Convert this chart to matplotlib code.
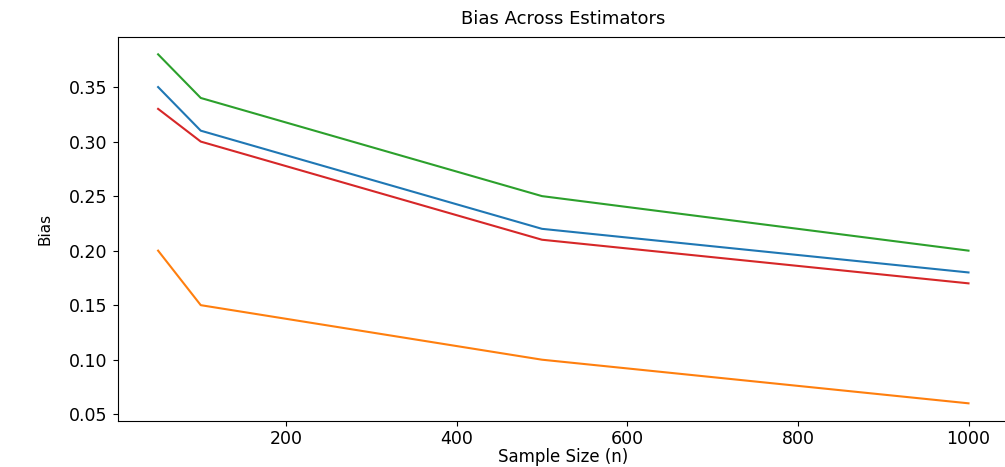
import numpy as np
import matplotlib
matplotlib.use("Agg")
import matplotlib.pyplot as plt

# sample sizes and bias of each estimator
sample_sizes = [50, 100, 500, 1000]
bias_blue = [0.35, 0.31, 0.22, 0.18]
bias_orange = [0.20, 0.15, 0.10, 0.06]
bias_green = [0.38, 0.34, 0.25, 0.20]
bias_red = [0.33, 0.30, 0.21, 0.17]

fig = plt.figure(figsize=(10.05, 4.67), dpi=100)
ax = fig.add_axes([0.117, 0.099, 0.887, 0.822])

ax.plot(sample_sizes, bias_blue, color="tab:blue")
ax.plot(sample_sizes, bias_orange, color="tab:orange")
ax.plot(sample_sizes, bias_green, color="tab:green")
ax.plot(sample_sizes, bias_red, color="tab:red")

ax.set_title("Bias Across Estimators", fontsize=13, pad=9)
ax.set_xlabel("Sample Size (n)", fontsize=12, labelpad=0)
ax.set_ylabel("Bias", fontsize=11, labelpad=12)
ax.tick_params(labelsize=12.5)

fig.savefig("out.png", dpi=100)
